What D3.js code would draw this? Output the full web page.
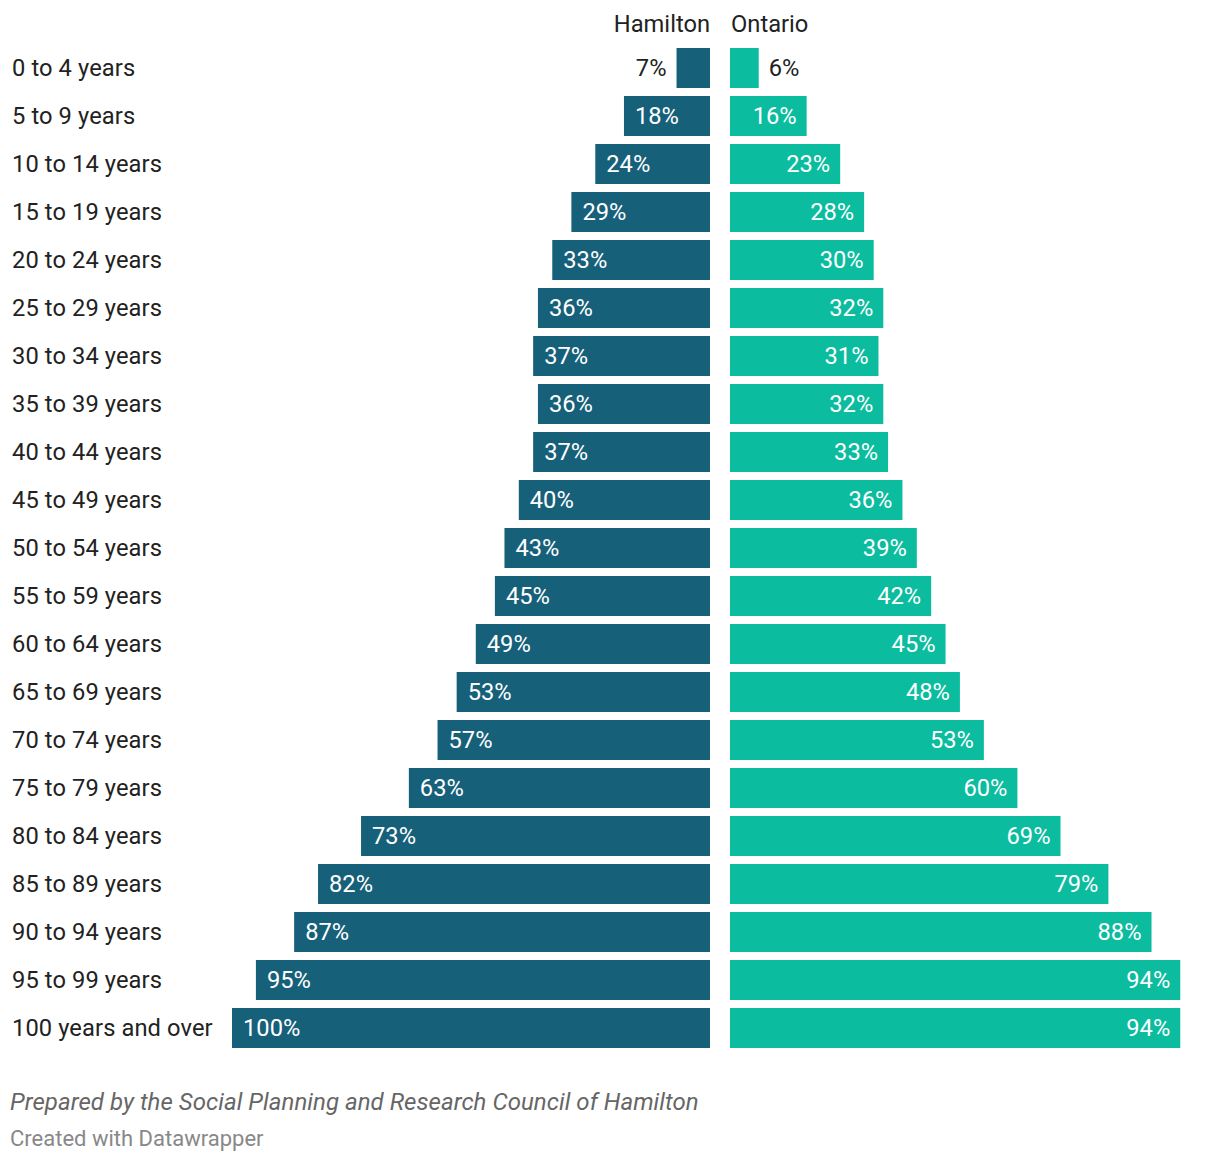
<!DOCTYPE html>
<html><head><meta charset="utf-8">
<script src="https://cdn.jsdelivr.net/npm/d3@7"></script>
<style>
body{margin:0;background:#fff;font-family:Roboto,sans-serif;}
</style></head><body>
<svg id="c" width="1220" height="1162"></svg>
<script>
const categories = ["0 to 4 years","5 to 9 years","10 to 14 years","15 to 19 years","20 to 24 years","25 to 29 years","30 to 34 years","35 to 39 years","40 to 44 years","45 to 49 years","50 to 54 years","55 to 59 years","60 to 64 years","65 to 69 years","70 to 74 years","75 to 79 years","80 to 84 years","85 to 89 years","90 to 94 years","95 to 99 years","100 years and over"];
const hamilton = [7,18,24,29,33,36,37,36,37,40,43,45,49,53,57,63,73,82,87,95,100];
const ontario = [6,16,23,28,30,32,31,32,33,36,39,42,45,48,53,60,69,79,88,94,94];
const seriesNames = ["Hamilton","Ontario"];

const svg = d3.select("#c");
const y = d3.scaleBand().domain(categories).range([44, 1052]).paddingInner(8/48).paddingOuter(4/48);
const xL = d3.scaleLinear().domain([0,100]).range([710, 232]);
const xR = d3.scaleLinear().domain([0,100]).range([730, 1209]);
const colL = "#17607a", colR = "#0bbc9f";
const fs = 23.7;

svg.append("text").attr("x",710).attr("y",24).attr("text-anchor","end").attr("dominant-baseline","central")
  .attr("font-size",fs).attr("fill","#222").text(seriesNames[0]);
svg.append("text").attr("x",731).attr("y",24).attr("text-anchor","start").attr("dominant-baseline","central")
  .attr("font-size",fs).attr("fill","#222").text(seriesNames[1]);

const rows = svg.selectAll("g.row").data(categories).join("g").attr("class","row");
rows.append("text").attr("x",12).attr("y",d=>y(d)+y.bandwidth()/2).attr("dominant-baseline","central")
  .attr("font-size",fs).attr("letter-spacing",0.1).attr("fill","#222").text(d=>d);

rows.append("rect").attr("x",(d,i)=>xL(hamilton[i])).attr("y",d=>y(d)).attr("width",(d,i)=>xL(0)-xL(hamilton[i]))
  .attr("height",y.bandwidth()).attr("fill",colL);
rows.append("rect").attr("x",xR(0)).attr("y",d=>y(d)).attr("width",(d,i)=>xR(ontario[i])-xR(0))
  .attr("height",y.bandwidth()).attr("fill",colR);

rows.append("text").attr("y",d=>y(d)+y.bandwidth()/2).attr("dominant-baseline","central").attr("font-size",fs)
  .each(function(d,i){
    const v=hamilton[i], w=xL(0)-xL(v), inside=w>60;
    d3.select(this).attr("x", inside? xL(v)+11 : xL(v)-10).attr("text-anchor", inside?"start":"end")
      .attr("fill", inside?"#fff":"#222").text(v+"%");
  });
rows.append("text").attr("y",d=>y(d)+y.bandwidth()/2).attr("dominant-baseline","central").attr("font-size",fs)
  .each(function(d,i){
    const v=ontario[i], w=xR(v)-xR(0), inside=w>60;
    d3.select(this).attr("x", inside? xR(v)-10 : xR(v)+10).attr("text-anchor", inside?"end":"start")
      .attr("fill", inside?"#fff":"#222").text(v+"%");
  });

svg.append("text").attr("x",10).attr("y",1102).attr("dominant-baseline","central").attr("font-size",24)
  .attr("letter-spacing",0.05).attr("font-style","italic").attr("fill","#666").text("Prepared by the Social Planning and Research Council of Hamilton");
svg.append("text").attr("x",10).attr("y",1138).attr("dominant-baseline","central").attr("font-size",22)
  .attr("fill","#888").text("Created with Datawrapper");
</script></body></html>
